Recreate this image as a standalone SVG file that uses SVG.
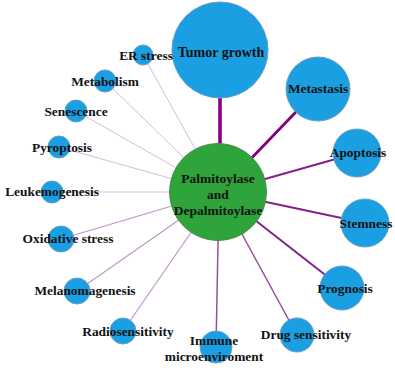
<svg xmlns="http://www.w3.org/2000/svg" width="395" height="371" viewBox="0 0 395 371">
<style>
.n{fill:#1a9fe3;stroke:#6a9cc4;stroke-width:1}
.c{fill:#2ea43a;stroke:#4a8a4a;stroke-width:1}
text{font-family:"Liberation Serif","Times New Roman",serif;font-weight:bold;font-size:13.4px;fill:#111;text-anchor:middle}
.e{fill:none;stroke-linecap:round}
.w1{stroke:#d6bcdb;stroke-width:1}
.w2{stroke:#bf96c6;stroke-width:1.2}
.w3{stroke:#9a4aa2;stroke-width:1.5}
.w4{stroke:#84208a;stroke-width:2}
.w5{stroke:#800080;stroke-width:2.8}
.w6{stroke:#8b008b;stroke-width:3.6}
</style>
<rect width="395" height="371" fill="#fff"/>
<g id="connectors">
<line class="e w6" x1="220" y1="192" x2="220" y2="50"/>
<line class="e w5" x1="219" y1="192" x2="318" y2="89"/>
<line class="e w4" x1="219" y1="192" x2="357" y2="153"/>
<line class="e w4" x1="219" y1="192" x2="365" y2="223"/>
<line class="e w4" x1="219" y1="192" x2="342" y2="288"/>
<line class="e w3" x1="219" y1="192" x2="297" y2="335"/>
<line class="e w3" x1="219" y1="192" x2="216" y2="347"/>
<line class="e w2" x1="219" y1="192" x2="123" y2="331"/>
<line class="e w2" x1="219" y1="192" x2="77" y2="291"/>
<line class="e w2" x1="219" y1="192" x2="61" y2="239"/>
<line class="e w1" x1="219" y1="192" x2="52" y2="192"/>
<line class="e w1" x1="219" y1="192" x2="59" y2="147"/>
<line class="e w1" x1="219" y1="192" x2="76" y2="111"/>
<line class="e w1" x1="219" y1="192" x2="105" y2="81"/>
<line class="e w1" x1="219" y1="192" x2="143" y2="55"/>
</g>
<g id="tumor-growth"><circle class="n" cx="220" cy="50" r="48"/><text x="221" y="57" style="font-size:14px">Tumor growth</text></g>
<g id="metastasis"><circle class="n" cx="318" cy="89" r="32"/><text x="318" y="93">Metastasis</text></g>
<g id="apoptosis"><circle class="n" cx="357" cy="153" r="24"/><text x="358" y="157">Apoptosis</text></g>
<g id="stemness"><circle class="n" cx="365" cy="223" r="24"/><text x="366" y="228">Stemness</text></g>
<g id="prognosis"><circle class="n" cx="342" cy="288" r="22"/><text x="345" y="293">Prognosis</text></g>
<g id="drug-sensitivity"><circle class="n" cx="297" cy="335" r="17"/><text x="306" y="339">Drug sensitivity</text></g>
<g id="immune"><circle class="n" cx="216" cy="347" r="16"/><text x="214" y="345">Immune</text><text x="214" y="361">microenviroment</text></g>
<g id="radiosensitivity"><circle class="n" cx="123" cy="331" r="13"/><text x="128" y="336">Radiosensitivity</text></g>
<g id="melanomagenesis"><circle class="n" cx="77" cy="291" r="13"/><text x="85" y="295">Melanomagenesis</text></g>
<g id="oxidative-stress"><circle class="n" cx="61" cy="239" r="13"/><text x="68" y="243">Oxidative stress</text></g>
<g id="leukemogenesis"><circle class="n" cx="52" cy="192" r="11"/><text x="52" y="196">Leukemogenesis</text></g>
<g id="pyroptosis"><circle class="n" cx="59" cy="147" r="11"/><text x="62" y="152">Pyroptosis</text></g>
<g id="senescence"><circle class="n" cx="76" cy="111" r="11"/><text x="76" y="116">Senescence</text></g>
<g id="metabolism"><circle class="n" cx="105" cy="81" r="11"/><text x="105" y="86">Metabolism</text></g>
<g id="er-stress"><circle class="n" cx="143" cy="55" r="10"/><text x="146" y="60">ER stress</text></g>
<g id="center"><circle class="c" cx="218" cy="192" r="48.5"/><text x="218" y="183" style="font-size:13.5px">Palmitoylase</text><text x="218" y="199" style="font-size:13.5px">and</text><text x="218" y="215" style="font-size:13.5px">Depalmitoylase</text></g>
</svg>
